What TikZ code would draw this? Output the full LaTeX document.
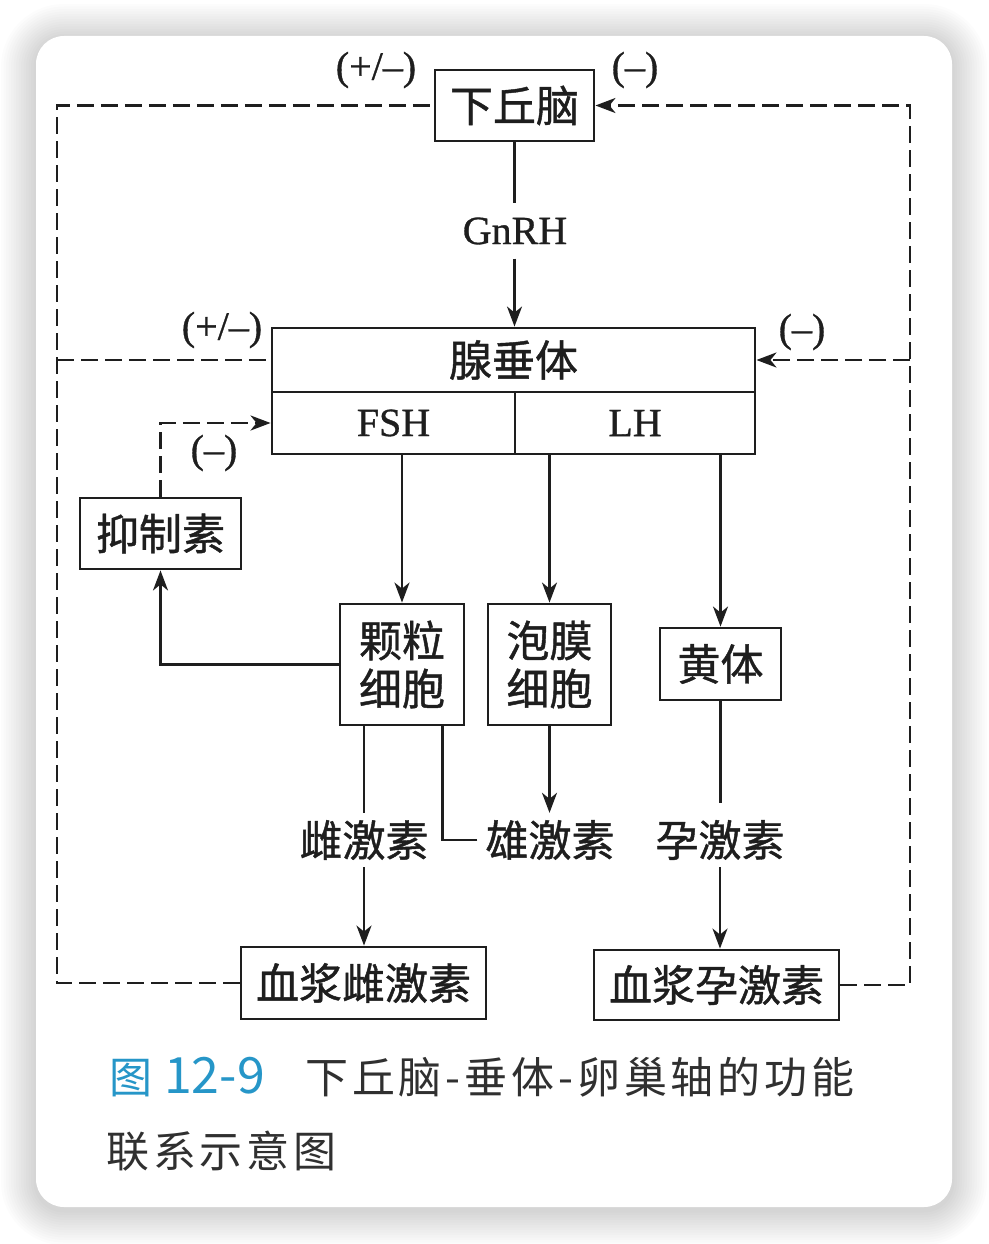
\documentclass[tikz,border=0pt]{standalone}
\usepackage{fontspec}
\setmainfont{Liberation Serif}[FakeBold=0.8]
\newfontfamily\cjk{Noto Sans CJK SC}[FakeBold=1]
\newfontfamily\cjkcap{Noto Sans CJK SC}[LetterSpace=9]
\newfontfamily\capnum{Noto Sans CJK SC}
\usetikzlibrary{arrows.meta,calc}
\definecolor{ink}{HTML}{1E1E1E}
\definecolor{capblue}{RGB}{38,150,200}
\definecolor{capgray}{HTML}{303030}
\begin{document}
\begin{tikzpicture}[x=1pt,y=-1pt,
  box/.style={draw=ink,line width=2.9pt,inner sep=0pt,text=ink,align=center,
    font=\cjk\fontsize{43}{48}\selectfont},
  latinbox/.style={box,font=\fontsize{40}{44}\selectfont},
  lbl/.style={inner xsep=8pt,inner ysep=0pt,minimum height=54pt,text=ink,
    font=\cjk\fontsize{43}{48}\selectfont},
  ann/.style={inner sep=0pt,text=ink,font=\fontsize{40}{44}\selectfont},
  conn/.style={draw=ink,line width=2.2pt},
  tip/.style={-{Stealth[length=20pt,width=15pt,inset=6pt]}},
  arr/.style={conn,tip},
  fb/.style={draw=ink,line width=2.8pt,dash pattern=on 17pt off 7pt},
  captext/.style={anchor=base west,inner sep=0pt,text=capgray,font=\cjkcap\fontsize{43}{48}\selectfont},
]
\useasboundingbox (0,0) rectangle (988,1244);
\fill[white] (0,0) rectangle (988,1244);
% card shadow
\foreach \i [evaluate=\i as \d using 2.5*\i, evaluate=\i as \r using 28+2.5*\i] in {1,...,14}
  \fill[black,opacity=0.012,rounded corners=\r pt] ({36-\d},{39-\d}) rectangle ({952+\d},{1210+\d});
\fill[white,rounded corners=28pt] (36,36) rectangle (952,1207);

% boxes
\node[box,minimum width=159pt,minimum height=71pt] (hyp) at (514.5,105.5) {下丘脑};
\node[box,minimum width=483pt,minimum height=64pt] (pitTop) at (513.5,360) {腺垂体};
\node[latinbox,minimum width=243pt,minimum height=62pt] (fsh) at (393.5,423) {FSH};
\node[latinbox,minimum width=240pt,minimum height=62pt] (lh) at (635,423) {LH};
\node[box,minimum width=161pt,minimum height=71pt] (inh) at (160.5,533.5) {抑制素};
\node[box,minimum width=124pt,minimum height=121pt] (gran) at (402,664.5) {颗粒\\细胞};
\node[box,minimum width=123pt,minimum height=121pt] (theca) at (549.5,664.5) {泡膜\\细胞};
\node[box,minimum width=121pt,minimum height=72pt] (cl) at (720.5,664) {黄体};
\node[box,minimum width=245pt,minimum height=72pt] (pe) at (363.5,983) {血浆雌激素};
\node[box,minimum width=245pt,minimum height=70pt] (pp) at (716.5,985) {血浆孕激素};

% labels
\node[ann,inner ysep=14pt] (gnrh) at (515,231) {GnRH};
\node[lbl] (estr) at (364,840) {雌激素};
\node[lbl] (andro) at (550,840) {雄激素};
\node[lbl] (prog) at (720,840) {孕激素};

% annotations
\node[ann] (pm1) at (376,70) {(+/–)};
\node[ann] (m1) at (635,70) {(–)};
\node[ann] (pm2) at (222,330) {(+/–)};
\node[ann] (m2) at (802,332) {(–)};
\node[ann] (m3) at (214,453) {(–)};

\coordinate (Lx) at (57,0);
\coordinate (Rx) at (910,0);

% solid connectors
\draw[conn] (hyp.south) -- (hyp.south |- gnrh.north);
\draw[arr] (hyp.south |- gnrh.south) -- (hyp.south |- pitTop.north);
\draw[arr] (gran.north |- fsh.south) -- (gran.north);
\draw[arr] (theca.north |- lh.south) -- (theca.north);
\draw[arr] (cl.north |- lh.south) -- (cl.north);
\draw[arr] (gran.west) -| (inh.south);
\draw[conn] (estr.north |- gran.south) -- (estr.north);
\draw[arr] (estr.south) -- (estr.south |- pe.north);
\draw[conn] (andro.west) -| ([xshift=-23pt]gran.south east);
\draw[arr] (theca.south) -- (theca.south |- andro.north);
\draw[conn,shorten >=10pt] (cl.south) -- (cl.south |- prog.north);
\draw[arr] (prog.south) -- (prog.south |- pp.north);

% dashed feedback
\draw[fb,tip] (inh.north) |- (fsh.west);
\draw[fb] (pe.west) -| (Lx |- hyp.west) -- (hyp.west);
\draw[fb] (Lx |- pitTop.west) -- (pitTop.west);
\draw[fb,tip] (pp.east) -| (Rx |- hyp.east) -- (hyp.east);
\draw[fb,tip] (Rx |- pitTop.east) -- (pitTop.east);

% caption
\node[anchor=base west,inner sep=0pt,text=capblue] (capno) at (109,1093)
  {{\capnum\fontsize{43}{48}\selectfont 图}\hspace{12pt}{\capnum\fontsize{50}{54}\selectfont 12-9}};
\node[captext] (captitle) at (305,1093) {下丘脑-垂体-卵巢轴的功能};
\node[captext] (capline2) at (106,1167) {联系示意图};
\end{tikzpicture}
\end{document}
